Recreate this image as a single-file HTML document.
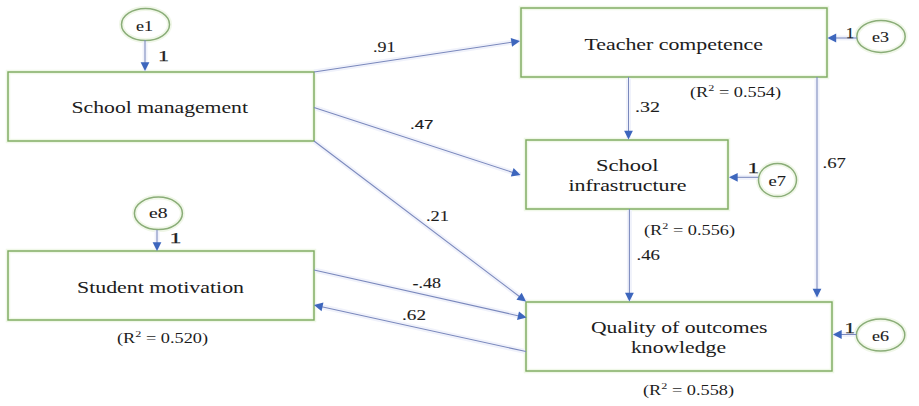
<!DOCTYPE html><html><head><meta charset="utf-8"><style>html,body{margin:0;padding:0;background:#fff;overflow:hidden;}svg{display:block;}</style></head><body>
<svg width="919" height="406" viewBox="0 0 919 406">
<rect x="8" y="72" width="306" height="69" fill="none" stroke="#f0f8e8" stroke-width="4.5"/>
<rect x="521" y="8" width="306" height="69" fill="none" stroke="#f0f8e8" stroke-width="4.5"/>
<rect x="526" y="140" width="202" height="69" fill="none" stroke="#f0f8e8" stroke-width="4.5"/>
<rect x="8" y="251" width="306" height="69" fill="none" stroke="#f0f8e8" stroke-width="4.5"/>
<rect x="526" y="302" width="306" height="69" fill="none" stroke="#f0f8e8" stroke-width="4.5"/>
<ellipse cx="145.5" cy="24.5" rx="24" ry="16" fill="none" stroke="#f0f7e8" stroke-width="5"/>
<ellipse cx="881" cy="36.4" rx="24.2" ry="16" fill="none" stroke="#f0f7e8" stroke-width="5"/>
<ellipse cx="777.5" cy="180" rx="19" ry="16.6" fill="none" stroke="#f0f7e8" stroke-width="5"/>
<ellipse cx="880.6" cy="335" rx="24.2" ry="16" fill="none" stroke="#f0f7e8" stroke-width="5"/>
<ellipse cx="158.4" cy="213.3" rx="24" ry="16.3" fill="none" stroke="#f0f7e8" stroke-width="5"/>
<line x1="145" y1="40" x2="145" y2="71" stroke="#f0f2fb" stroke-width="5"/>
<line x1="857" y1="38" x2="827.5" y2="38" stroke="#f0f2fb" stroke-width="5"/>
<line x1="758.5" y1="177.3" x2="729" y2="177.3" stroke="#f0f2fb" stroke-width="5"/>
<line x1="856.5" y1="334.5" x2="833" y2="334.5" stroke="#f0f2fb" stroke-width="5"/>
<line x1="157" y1="230" x2="157" y2="251" stroke="#f0f2fb" stroke-width="5"/>
<line x1="314" y1="72" x2="520" y2="41" stroke="#f0f2fb" stroke-width="5"/>
<line x1="314" y1="107.5" x2="520.5" y2="175" stroke="#f0f2fb" stroke-width="5"/>
<line x1="314" y1="141" x2="526" y2="301.5" stroke="#f0f2fb" stroke-width="5"/>
<line x1="314" y1="270" x2="526.5" y2="317.6" stroke="#f0f2fb" stroke-width="5"/>
<line x1="526" y1="351.6" x2="314" y2="305" stroke="#f0f2fb" stroke-width="5"/>
<line x1="628.5" y1="77" x2="628.5" y2="139.5" stroke="#f0f2fb" stroke-width="5"/>
<line x1="629.4" y1="209" x2="629.4" y2="301.5" stroke="#f0f2fb" stroke-width="5"/>
<line x1="817" y1="77" x2="817" y2="297.5" stroke="#f0f2fb" stroke-width="5"/>
<rect x="8" y="72" width="306" height="69" fill="none" stroke="#7eab60" stroke-width="1.45"/>
<rect x="521" y="8" width="306" height="69" fill="none" stroke="#7eab60" stroke-width="1.45"/>
<rect x="526" y="140" width="202" height="69" fill="none" stroke="#7eab60" stroke-width="1.45"/>
<rect x="8" y="251" width="306" height="69" fill="none" stroke="#7eab60" stroke-width="1.45"/>
<rect x="526" y="302" width="306" height="69" fill="none" stroke="#7eab60" stroke-width="1.45"/>
<ellipse cx="145.5" cy="24.5" rx="24" ry="16" fill="none" stroke="#8aad78" stroke-width="1.5"/>
<ellipse cx="881" cy="36.4" rx="24.2" ry="16" fill="none" stroke="#8aad78" stroke-width="1.5"/>
<ellipse cx="777.5" cy="180" rx="19" ry="16.6" fill="none" stroke="#8aad78" stroke-width="1.5"/>
<ellipse cx="880.6" cy="335" rx="24.2" ry="16" fill="none" stroke="#8aad78" stroke-width="1.5"/>
<ellipse cx="158.4" cy="213.3" rx="24" ry="16.3" fill="none" stroke="#8aad78" stroke-width="1.5"/>
<line x1="145" y1="40" x2="145.00" y2="64.30" stroke="#7a88bc" stroke-width="1.05"/>
<polygon points="145.00,71.00 140.60,62.30 149.40,62.30" fill="#3d66bd"/>
<line x1="857" y1="38" x2="834.20" y2="38.00" stroke="#7a88bc" stroke-width="1.05"/>
<polygon points="827.50,38.00 836.20,33.60 836.20,42.40" fill="#3d66bd"/>
<line x1="758.5" y1="177.3" x2="735.70" y2="177.30" stroke="#7a88bc" stroke-width="1.05"/>
<polygon points="729.00,177.30 737.70,172.90 737.70,181.70" fill="#3d66bd"/>
<line x1="856.5" y1="334.5" x2="839.70" y2="334.50" stroke="#7a88bc" stroke-width="1.05"/>
<polygon points="833.00,334.50 841.70,330.10 841.70,338.90" fill="#3d66bd"/>
<line x1="157" y1="230" x2="157.00" y2="244.30" stroke="#7a88bc" stroke-width="1.05"/>
<polygon points="157.00,251.00 152.60,242.30 161.40,242.30" fill="#3d66bd"/>
<line x1="314" y1="72" x2="513.37" y2="42.00" stroke="#7a88bc" stroke-width="1.05"/>
<polygon points="520.00,41.00 512.05,46.65 510.74,37.94" fill="#3d66bd"/>
<line x1="314" y1="107.5" x2="514.13" y2="172.92" stroke="#7a88bc" stroke-width="1.05"/>
<polygon points="520.50,175.00 510.86,176.48 513.60,168.11" fill="#3d66bd"/>
<line x1="314" y1="141" x2="520.66" y2="297.46" stroke="#7a88bc" stroke-width="1.05"/>
<polygon points="526.00,301.50 516.41,299.76 521.72,292.74" fill="#3d66bd"/>
<line x1="314" y1="270" x2="519.96" y2="316.14" stroke="#7a88bc" stroke-width="1.05"/>
<polygon points="526.50,317.60 517.05,319.99 518.97,311.40" fill="#3d66bd"/>
<line x1="526" y1="351.6" x2="320.54" y2="306.44" stroke="#7a88bc" stroke-width="1.05"/>
<polygon points="314.00,305.00 323.44,302.57 321.55,311.17" fill="#3d66bd"/>
<line x1="628.5" y1="77" x2="628.50" y2="132.80" stroke="#7a88bc" stroke-width="1.05"/>
<polygon points="628.50,139.50 624.10,130.80 632.90,130.80" fill="#3d66bd"/>
<line x1="629.4" y1="209" x2="629.40" y2="294.80" stroke="#7a88bc" stroke-width="1.05"/>
<polygon points="629.40,301.50 625.00,292.80 633.80,292.80" fill="#3d66bd"/>
<line x1="817" y1="77" x2="817.00" y2="290.80" stroke="#7a88bc" stroke-width="1.05"/>
<polygon points="817.00,297.50 812.60,288.80 821.40,288.80" fill="#3d66bd"/>
<text x="71.50" y="112.7" font-family="Liberation Serif" font-size="17.4" font-weight="normal" fill="#1c1c1c" stroke="#1c1c1c" stroke-width="0.04" textLength="176.50" lengthAdjust="spacingAndGlyphs">School management</text>
<text x="584.50" y="49.8" font-family="Liberation Serif" font-size="17.4" font-weight="normal" fill="#1c1c1c" stroke="#1c1c1c" stroke-width="0.04" textLength="178.50" lengthAdjust="spacingAndGlyphs">Teacher competence</text>
<text x="596.00" y="170.9" font-family="Liberation Serif" font-size="17.4" font-weight="normal" fill="#1c1c1c" stroke="#1c1c1c" stroke-width="0.04" textLength="62.50" lengthAdjust="spacingAndGlyphs">School</text>
<text x="568.50" y="191.2" font-family="Liberation Serif" font-size="17.4" font-weight="normal" fill="#1c1c1c" stroke="#1c1c1c" stroke-width="0.04" textLength="118.00" lengthAdjust="spacingAndGlyphs">infrastructure</text>
<text x="77.00" y="292.9" font-family="Liberation Serif" font-size="17.4" font-weight="normal" fill="#1c1c1c" stroke="#1c1c1c" stroke-width="0.04" textLength="167.00" lengthAdjust="spacingAndGlyphs">Student motivation</text>
<text x="591.00" y="333.3" font-family="Liberation Serif" font-size="17.4" font-weight="normal" fill="#1c1c1c" stroke="#1c1c1c" stroke-width="0.04" textLength="176.50" lengthAdjust="spacingAndGlyphs">Quality of outcomes</text>
<text x="631.00" y="352.9" font-family="Liberation Serif" font-size="17.4" font-weight="normal" fill="#1c1c1c" stroke="#1c1c1c" stroke-width="0.04" textLength="95.00" lengthAdjust="spacingAndGlyphs">knowledge</text>
<text x="373.00" y="51.6" font-family="Liberation Serif" font-size="15.4" font-weight="normal" fill="#1c1c1c" stroke="#1c1c1c" stroke-width="0.1" textLength="22.50" lengthAdjust="spacingAndGlyphs">.91</text>
<text x="410.00" y="128.8" font-family="Liberation Sans" font-size="13" font-weight="normal" fill="#1c1c1c" stroke="#1c1c1c" stroke-width="0.2" textLength="23.50" lengthAdjust="spacingAndGlyphs">.47</text>
<text x="426.00" y="221.3" font-family="Liberation Serif" font-size="15.4" font-weight="normal" fill="#1c1c1c" stroke="#1c1c1c" stroke-width="0.1" textLength="23.00" lengthAdjust="spacingAndGlyphs">.21</text>
<text x="412.50" y="287.9" font-family="Liberation Serif" font-size="15.4" font-weight="normal" fill="#1c1c1c" stroke="#1c1c1c" stroke-width="0.1" textLength="28.50" lengthAdjust="spacingAndGlyphs">-.48</text>
<text x="402.00" y="320.1" font-family="Liberation Serif" font-size="15.4" font-weight="normal" fill="#1c1c1c" stroke="#1c1c1c" stroke-width="0.1" textLength="24.00" lengthAdjust="spacingAndGlyphs">.62</text>
<text x="635.00" y="112.1" font-family="Liberation Serif" font-size="15.4" font-weight="normal" fill="#1c1c1c" stroke="#1c1c1c" stroke-width="0.1" textLength="25.00" lengthAdjust="spacingAndGlyphs">.32</text>
<text x="636.50" y="259.8" font-family="Liberation Serif" font-size="15.4" font-weight="normal" fill="#1c1c1c" stroke="#1c1c1c" stroke-width="0.1" textLength="23.50" lengthAdjust="spacingAndGlyphs">.46</text>
<text x="822.50" y="167.5" font-family="Liberation Serif" font-size="15.4" font-weight="normal" fill="#1c1c1c" stroke="#1c1c1c" stroke-width="0.1" textLength="23.50" lengthAdjust="spacingAndGlyphs">.67</text>
<text x="136.00" y="30.5" font-family="Liberation Serif" font-size="14.5" font-weight="normal" fill="#1c1c1c" stroke="#1c1c1c" stroke-width="0.1" textLength="17.00" lengthAdjust="spacingAndGlyphs">e1</text>
<text x="872.00" y="41.8" font-family="Liberation Serif" font-size="14.5" font-weight="normal" fill="#1c1c1c" stroke="#1c1c1c" stroke-width="0.1" textLength="17.00" lengthAdjust="spacingAndGlyphs">e3</text>
<text x="768.50" y="185.5" font-family="Liberation Serif" font-size="14.5" font-weight="normal" fill="#1c1c1c" stroke="#1c1c1c" stroke-width="0.1" textLength="17.50" lengthAdjust="spacingAndGlyphs">e7</text>
<text x="149.00" y="218.4" font-family="Liberation Serif" font-size="14.5" font-weight="normal" fill="#1c1c1c" stroke="#1c1c1c" stroke-width="0.1" textLength="18.50" lengthAdjust="spacingAndGlyphs">e8</text>
<text x="872.00" y="340.5" font-family="Liberation Serif" font-size="14.5" font-weight="normal" fill="#1c1c1c" stroke="#1c1c1c" stroke-width="0.1" textLength="17.00" lengthAdjust="spacingAndGlyphs">e6</text>
<text x="158.00" y="60.7" font-family="Liberation Serif" font-size="14" font-weight="normal" fill="#1c1c1c" stroke="#1c1c1c" stroke-width="0.25" textLength="11.00" lengthAdjust="spacingAndGlyphs">1</text>
<text x="846.00" y="38" font-family="Liberation Serif" font-size="14" font-weight="normal" fill="#1c1c1c" stroke="#1c1c1c" stroke-width="0.25" textLength="8.00" lengthAdjust="spacingAndGlyphs">1</text>
<text x="747.50" y="172.5" font-family="Liberation Serif" font-size="14" font-weight="normal" fill="#1c1c1c" stroke="#1c1c1c" stroke-width="0.25" textLength="11.50" lengthAdjust="spacingAndGlyphs">1</text>
<text x="169.50" y="243.4" font-family="Liberation Serif" font-size="14" font-weight="normal" fill="#1c1c1c" stroke="#1c1c1c" stroke-width="0.25" textLength="12.00" lengthAdjust="spacingAndGlyphs">1</text>
<text x="844.50" y="332.7" font-family="Liberation Serif" font-size="14" font-weight="normal" fill="#1c1c1c" stroke="#1c1c1c" stroke-width="0.25" textLength="10.50" lengthAdjust="spacingAndGlyphs">1</text>
<text x="690.00" y="97.4" font-family="Liberation Serif" font-size="13.6" fill="#1c1c1c" textLength="91.00" lengthAdjust="spacingAndGlyphs">(R<tspan dy="-6.5" font-size="9">2</tspan><tspan dy="6.5"> = 0.554)</tspan></text>
<text x="644.00" y="235.2" font-family="Liberation Serif" font-size="13.6" fill="#1c1c1c" textLength="91.00" lengthAdjust="spacingAndGlyphs">(R<tspan dy="-6.5" font-size="9">2</tspan><tspan dy="6.5"> = 0.556)</tspan></text>
<text x="117.00" y="343.2" font-family="Liberation Serif" font-size="13.6" fill="#1c1c1c" textLength="91.00" lengthAdjust="spacingAndGlyphs">(R<tspan dy="-6.5" font-size="9">2</tspan><tspan dy="6.5"> = 0.520)</tspan></text>
<text x="643.00" y="395.3" font-family="Liberation Serif" font-size="13.6" fill="#1c1c1c" textLength="91.00" lengthAdjust="spacingAndGlyphs">(R<tspan dy="-6.5" font-size="9">2</tspan><tspan dy="6.5"> = 0.558)</tspan></text>
</svg></body></html>
